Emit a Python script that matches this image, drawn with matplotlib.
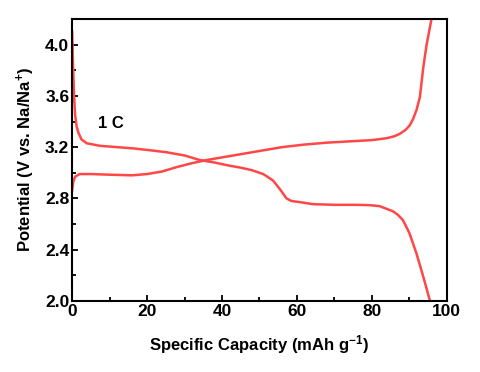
import matplotlib
matplotlib.use("Agg")
import matplotlib.pyplot as plt
from matplotlib.ticker import MultipleLocator

plt.rcParams['font.family'] = ['Liberation Sans', 'DejaVu Sans']
plt.rcParams['font.weight'] = 'bold'
plt.rcParams['mathtext.fontset'] = 'custom'
plt.rcParams['mathtext.bf'] = 'Liberation Sans:bold'
plt.rcParams['mathtext.rm'] = 'Liberation Sans:bold'
plt.rcParams['mathtext.default'] = 'bf'

# charge curve (capacity, potential)
charge_cap = [0.0, 0.3, 0.8, 2, 5, 10, 16, 20, 24, 28, 32, 36, 40, 45, 50, 56, 62, 68, 74,
              80, 84, 86, 87.5, 89, 90.1, 91, 91.9, 92.8, 93.7, 94.6, 95.9]
charge_v = [2.86, 2.93, 2.97, 2.99, 2.99, 2.985, 2.98, 2.99, 3.01, 3.045, 3.075, 3.10, 3.12,
            3.145, 3.17, 3.20, 3.22, 3.235, 3.245, 3.255, 3.27, 3.285, 3.305, 3.335, 3.37,
            3.42, 3.49, 3.59, 3.82, 4.0, 4.2]

# discharge curve
dis_cap = [0, 0.2, 0.5, 0.8, 1.2, 1.7, 2.5, 3.9, 7.5, 12, 16.4, 21, 25.2, 30, 34, 38, 42, 45,
           48, 51, 53.6, 55.5, 57.2, 58.5, 61, 64.3, 70, 76, 79.5, 82, 85.6, 87, 88.3, 90,
           91.9, 93.7, 95.5]
dis_v = [4.10, 3.88, 3.60, 3.45, 3.36, 3.31, 3.26, 3.23, 3.21, 3.20, 3.19, 3.175, 3.16, 3.135,
         3.10, 3.08, 3.055, 3.04, 3.02, 2.99, 2.94, 2.87, 2.80, 2.78, 2.77, 2.755, 2.75, 2.75,
         2.747, 2.74, 2.70, 2.67, 2.63, 2.53, 2.37, 2.19, 2.0]

fig = plt.figure(figsize=(4.81, 3.72), dpi=100)
ax = fig.add_axes([0.150, 0.191, 0.779, 0.758])

red = '#ff4747'
ax.plot(charge_cap, charge_v, color=red, lw=1.8)
ax.plot(dis_cap, dis_v, color=red, lw=1.8)

ax.set_xlim(0, 100)
ax.set_ylim(2.0, 4.2)
ax.xaxis.set_major_locator(MultipleLocator(20))
ax.xaxis.set_minor_locator(MultipleLocator(10))
ax.yaxis.set_major_locator(MultipleLocator(0.4))
ax.yaxis.set_minor_locator(MultipleLocator(0.2))
ax.yaxis.set_major_formatter(plt.FormatStrFormatter('%.1f'))
ax.tick_params(which='both', direction='in', width=1.3, labelsize=12.5, pad=2)
ax.tick_params(which='major', length=4)
ax.tick_params(which='minor', length=3)
for s in ax.spines.values():
    s.set_linewidth(1.5)
for lab in ax.get_xticklabels() + ax.get_yticklabels():
    lab.set_fontweight('bold')

ax.set_xlabel(r'Specific Capacity (mAh g$^{-1}$)', fontsize=12, fontweight='bold', labelpad=10)
ax.set_ylabel(r'Potential (V vs. Na/Na$^{+}$)', fontsize=12, fontweight='bold', labelpad=6)
ax.text(7, 3.35, '1 C', fontsize=12, fontweight='bold')

fig.savefig('out.png', dpi=100)
